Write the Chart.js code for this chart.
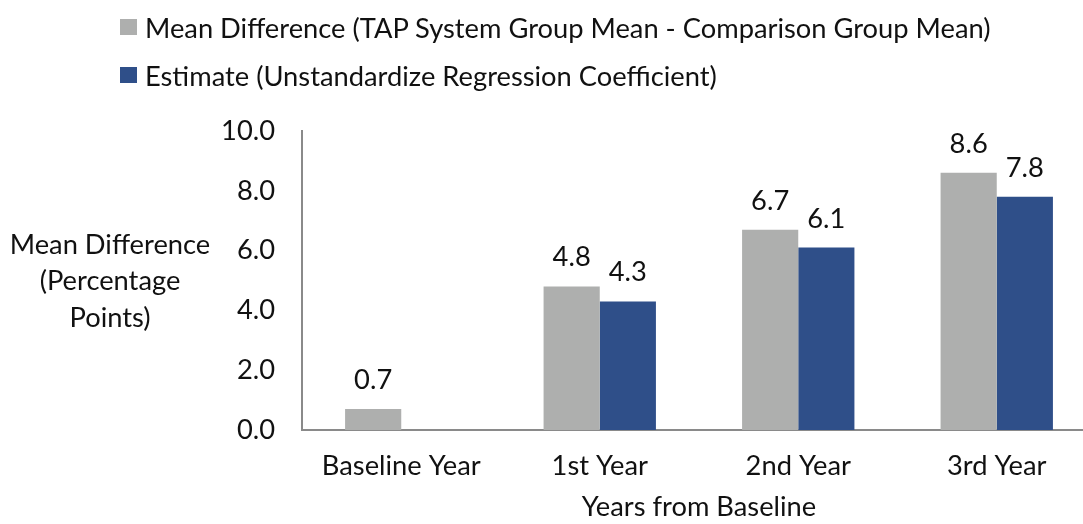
<!DOCTYPE html>
<html lang="en">
<head>
    <meta charset="UTF-8">
    <title>Mean Difference by Year</title>
    <script src="https://cdn.jsdelivr.net/npm/chart.js"></script>
    <style>
        body { margin: 0; overflow: hidden; background: #fff; font-family: Lato, sans-serif; }
        .wrap { position: relative; width: 1100px; height: 524px; }
        .legend { position: absolute; left: 120px; top: 3px; color: #111; font-size: 27.3px; }
        .legend div { height: 48px; display: flex; align-items: center; }
        .legend span.box { display: inline-block; width: 17px; height: 16px; margin-right: 8px; }
    </style>
</head>
<body>
    <div class="wrap">
        <canvas id="chart-mean" width="1100" height="524"></canvas>
        <div class="legend" id="legend"></div>
    </div>

<script>
    const categories = ['Baseline Year', '1st Year', '2nd Year', '3rd Year'];
    const meanDiff = [0.7, 4.8, 6.7, 8.6];
    const estimate = [null, 4.3, 6.1, 7.8];
    const yTicks = [0, 2, 4, 6, 8, 10];
    const seriesNames = [
        'Mean Difference (TAP System Group Mean - Comparison Group Mean)',
        'Estimate (Unstandardize Regression Coefficient)'
    ];
    const yTitle = ['Mean Difference', '(Percentage', 'Points)'];
    const xTitle = 'Years from Baseline';

    const colors = ['#AEAFAE', '#2F4F89'];
    const fontName = 'Lato';
    const fontSize = 27.3;

    // legend in html so it can sit at the top left like the original
    const legendEl = document.getElementById('legend');
    seriesNames.forEach(function (name, i) {
        const row = document.createElement('div');
        const box = document.createElement('span');
        box.className = 'box';
        box.style.background = colors[i];
        row.appendChild(box);
        row.appendChild(document.createTextNode(name));
        legendEl.appendChild(row);
    });

    // value labels above bars + horizontal y title
    const extras = {
        id: 'extras',
        afterDatasetsDraw(chart) {
            const ctx = chart.ctx;
            ctx.save();
            ctx.fillStyle = '#111';
            ctx.font = fontSize + 'px ' + fontName;
            ctx.textAlign = 'center';
            ctx.textBaseline = 'alphabetic';
            chart.data.datasets.forEach(function (ds, i) {
                chart.getDatasetMeta(i).data.forEach(function (bar, j) {
                    if (ds.data[j] === null) return;
                    ctx.fillText(ds.data[j].toFixed(1), bar.x, bar.y - 20);
                });
            });
            ctx.textBaseline = 'middle';
            yTitle.forEach(function (line, k) {
                ctx.fillText(line, 110, 245 + k * 36.5);
            });
            ctx.restore();
        }
    };

    const ctxMean = document.getElementById('chart-mean');

    new Chart(ctxMean, {
        type: 'bar',
        data: {
            labels: categories,
            datasets: [{
                label: seriesNames[0],
                data: meanDiff,
                backgroundColor: colors[0],
                borderWidth: 0
            }, {
                label: seriesNames[1],
                data: estimate,
                backgroundColor: colors[1],
                borderWidth: 0
            }]
        },
        options: {
            responsive: false,
            animation: false,
            devicePixelRatio: 1,
            categoryPercentage: 0.566,
            barPercentage: 1,
            layout: {
                padding: { top: 131, right: 4, left: 0, bottom: 0 }
            },
            plugins: {
                legend: { display: false },
                tooltip: { enabled: false }
            },
            scales: {
                x: {
                    grid: { display: false, drawTicks: false },
                    border: { color: '#8A8A8A', width: 2 },
                    ticks: {
                        color: '#111',
                        font: { family: fontName, size: fontSize },
                        padding: 20
                    },
                    title: {
                        display: true,
                        text: xTitle,
                        color: '#111',
                        font: { family: fontName, size: fontSize },
                        padding: { top: 6, bottom: 0 }
                    },
                    afterFit(scale) { scale.height = 94; }
                },
                y: {
                    min: 0,
                    max: 10,
                    afterBuildTicks(scale) {
                        scale.ticks = yTicks.map(function (v) { return { value: v }; });
                    },
                    grid: { display: false, drawTicks: false },
                    border: { color: '#8A8A8A', width: 2 },
                    ticks: {
                        color: '#111',
                        font: { family: fontName, size: fontSize },
                        padding: 27,
                        callback: function (v) { return Number(v).toFixed(1); }
                    },
                    afterFit(scale) { scale.width = 302; }
                }
            }
        },
        plugins: [extras]
    });
</script>
</body>
</html>
